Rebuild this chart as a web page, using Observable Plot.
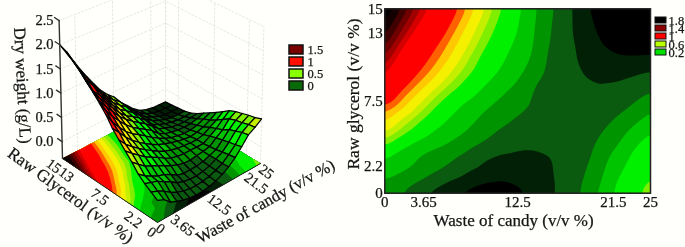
<!DOCTYPE html>
<html><head><meta charset="utf-8">
<script src="https://cdn.jsdelivr.net/npm/d3@7"></script>
<script src="https://cdn.jsdelivr.net/npm/@observablehq/plot@0.6"></script>
<style>
html,body{margin:0;padding:0;background:#fffffb;overflow:hidden}
#stage{position:relative;width:685px;height:247px;filter:blur(0.35px)}
#stage svg{position:absolute;background:transparent;font-family:"Liberation Serif",serif;overflow:hidden}
</style></head><body><div id="stage"></div>
<script>
const waste = [0,1.5625,3.125,4.6875,6.25,7.8125,9.375,10.9375,12.5,14.0625,15.625,17.1875,18.75,20.3125,21.875,23.4375,25];
const glycerol = [15,14,13,12,11,10,9,8,7,6,5,4,3,2,1,0];
const dryWeight = [
[2.0,1.8,1.55,1.31,1.09,.88,.68,.525,.40,.22,.075,-.07,-.18,-.24,-.27,-.28,-.29],
[1.92,1.69,1.43,1.22,1.01,.81,.63,.49,.38,.21,.06,-.075,-.165,-.23,-.26,-.27,-.275],
[1.84,1.58,1.32,1.14,.93,.74,.58,.46,.36,.2,.05,-.08,-.15,-.215,-.245,-.255,-.255],
[1.73,1.44,1.18,1.03,.85,.68,.53,.43,.32,.19,.03,-.07,-.135,-.195,-.23,-.235,-.235],
[1.6,1.32,1.12,.95,.78,.61,.48,.39,.29,.17,.01,-.07,-.125,-.165,-.19,-.195,-.19],
[1.47,1.21,1.03,.86,.69,.56,.45,.35,.25,.13,0,-.06,-.11,-.14,-.145,-.135,-.115],
[1.33,1.1,.91,.75,.6,.48,.38,.29,.195,.06,-.02,-.06,-.09,-.105,-.10,-.07,-.02],
[1.18,.95,.78,.62,.5,.41,.31,.21,.12,.04,-.02,-.05,-.08,-.08,-.05,.01,.07],
[.98,.83,.66,.52,.41,.31,.22,.14,.085,.035,-.01,-.04,-.06,-.04,0,.07,.16],
[.83,.67,.55,.44,.34,.25,.16,.09,.035,0,-.02,-.035,-.04,-.01,.07,.15,.26],
[.69,.57,.46,.35,.27,.19,.1,.03,-.01,-.03,-.03,-.04,-.04,.04,.13,.25,.36],
[.55,.43,.32,.25,.18,.1,.03,-.03,-.07,-.08,-.06,-.05,-.02,.09,.185,.34,.42],
[.39,.28,.2,.13,.08,.01,-.085,-.12,-.125,-.12,-.1,-.05,0,.125,.27,.39,.46],
[.28,.23,.18,.09,.02,-.08,-.13,-.155,-.165,-.15,-.11,-.04,.03,.16,.32,.42,.50],
[.195,.14,.06,-.04,-.115,-.165,-.195,-.205,-.19,-.165,-.115,-.05,.06,.19,.37,.46,.53],
[.11,.05,-.08,-.14,-.19,-.22,-.24,-.235,-.215,-.18,-.12,-.035,.08,.23,.40,.48,.58]
];
const bandLevels = [-1,-.2,-.1,.05,.2,.36,.52,.6,.68,.8,.9,1,1.4,1.5,1.6,1.7,1.8,1.9];
const bandColors = ["#000000","#012006","#0a5a10","#009400","#00c400","#00f000","#80ee00","#c4f000","#f4f000","#ffc800","#ff6000","#ff0000","#d40000","#a00000","#700000","#400000","#150000","#000000"];
const wasteTicks = [0,3.65,12.5,21.5,25];
const glycerolTicks = [0,2.2,7.5,13,15];
const weightTicks = [0,.5,1,1.5,2,2.5];
const legend3d = ["1.5","1","0.5","0"];
const legend3dColors = ["#7a0000","#ff1000","#88ff00","#0a6a0a"];
const legend2d = ["1.8","1.4","1","0.6","0.2"];
const legend2dColors = ["#000000","#8b0000","#ff0000","#b8ff00","#00e000"];

const stage = document.getElementById("stage");
const serif = "Liberation Serif";
const ink = "#141414";
const color = {type:"threshold",domain:bandLevels.slice(1),range:bandColors};
function place(svg,left,top){svg.style.left=left+"px";svg.style.top=top+"px";stage.appendChild(svg);}

const floorZ = -.35;
const corners = {a:[157,222,48],b:[260,163,48],c:[62,158,48.4],d:[165,104,44]};
const box = d3.geoTransform({point(w,g,z){
  const u=w/25,v=g/15,mix=i=>(1-u)*(1-v)*corners.a[i]+u*(1-v)*corners.b[i]+(1-u)*v*corners.c[i]+u*v*corners.d[i];
  const h=((z===undefined?floorZ:z)-floorZ)*mix(2),fx=mix(0);
  this.stream.point(fx+(fx-160)*.00025*h,mix(1)-h);
}});

const n=waste.length,m=glycerol.length;
const wOf=d3.scaleLinear([0,n-1],[waste[0],waste[n-1]]).clamp(true);
const gOf=d3.scaleLinear([0,m-1],[glycerol[0],glycerol[m-1]]).clamp(true);
const floor=d3.contours().size([n,m]).smooth(true).thresholds(bandLevels)(dryWeight.flat()).map(c=>({
  type:"MultiPolygon",value:c.value,
  coordinates:c.coordinates.map(p=>p.map(r=>r.map(([i,j])=>[wOf(i-.5),gOf(j-.5)])))
}));
const quads=[];
for(let j=0;j<m-1;j++)for(let i=0;i<n-1;i++){
  const z=[dryWeight[j][i],dryWeight[j][i+1],dryWeight[j+1][i+1],dryWeight[j+1][i]];
  quads.push({type:"Polygon",value:d3.mean(z),order:waste[i]/25+glycerol[j]/15,coordinates:[[
    [waste[i],glycerol[j],z[0]],[waste[i+1],glycerol[j],z[1]],[waste[i+1],glycerol[j+1],z[2]],[waste[i],glycerol[j+1],z[3]],[waste[i],glycerol[j],z[0]]
  ]]});
}
quads.sort((a,b)=>d3.descending(a.order,b.order));
const lines=c=>({type:"LineString",coordinates:c});
const topZ=2.5;
const walls=[
  ...weightTicks.map(z=>lines([[0,15,z],[25,15,z],[25,0,z]])),
  ...wasteTicks.map(w=>lines([[w,15,floorZ],[w,15,topZ]])),
  ...glycerolTicks.map(g=>lines([[25,g,floorZ],[25,g,topZ]])),
  lines([[25,15,floorZ],[25,15,topZ]])
];
const edges=[lines([[0,15,floorZ],[0,0,floorZ],[25,0,floorZ]])];
const zAxis=[lines([[0,15,floorZ],[0,15,topZ]]),...weightTicks.map(z=>lines([[0,15,z],[0,15.7,z]]))];
const tickStyle={fontFamily:serif,fontSize:14.5,fill:ink,rotate:37,stroke:ink,strokeWidth:.25};
const title={fontFamily:serif,fill:ink,textAnchor:"middle",lineAnchor:"middle",stroke:ink,strokeWidth:.25};
const axisText={fontFamily:serif,fill:ink,textStroke:ink,textStrokeWidth:.25};

place(Plot.plot({
  width:340,height:247,margin:0,projection:box,color,
  style:{background:"transparent"},
  marks:[
    Plot.geo(walls,{stroke:"#e6e6e6",strokeWidth:1,strokeDasharray:"2,2"}),
    Plot.geo(floor,{fill:d=>d.value}),
    Plot.geo(edges,{stroke:"#222",strokeWidth:1}),
    Plot.geo(quads,{fill:d=>d.value+.12,stroke:"#000",strokeWidth:1.2}),
    Plot.geo(zAxis,{stroke:"#333",strokeWidth:1.4}),
    Plot.text(wasteTicks,{x:d=>d,y:()=>0,text:String,textAnchor:"start",dx:0,dy:4,...tickStyle}),
    Plot.text(glycerolTicks,{x:()=>0,y:d=>d,text:String,textAnchor:"end",dx:-3,dy:12,...tickStyle})
  ]
}),0,0);

place(Plot.plot({
  width:340,height:247,marginTop:20,marginBottom:89,marginLeft:56,marginRight:284,
  y:{domain:[floorZ,topZ]},
  style:{background:"transparent"},
  marks:[
    Plot.axisY(weightTicks,{anchor:"left",tickSize:0,tickPadding:3,tickFormat:d3.format(".1f"),label:null,fontSize:14.5,...axisText}),
    Plot.text(["Dry weight (g/L)"],{frameAnchor:"top-left",dx:-34,dy:65,rotate:87,fontSize:17,...title}),
    Plot.text(["Raw Glycerol (v/v %)"],{frameAnchor:"top-left",dx:14,dy:175,rotate:36,fontSize:17,...title}),
    Plot.text(["Waste of candy (v/v %)"],{frameAnchor:"top-left",dx:209,dy:181,rotate:-29,fontSize:16.5,...title})
  ]
}),0,0);

place(Plot.plot({
  width:46,height:54,margin:0,marginLeft:4,marginRight:28,
  y:{domain:legend3d,padding:.25},
  marks:[
    Plot.cell(legend3d,{y:d=>d,fill:(d,i)=>legend3dColors[i],stroke:"#111",strokeWidth:1.5}),
    Plot.axisY(legend3d,{anchor:"right",tickSize:0,tickPadding:4,label:null,fontSize:12.5,...axisText})
  ]
}),285,40);

place(Plot.plot({
  width:345,height:247,marginLeft:44.3,marginRight:35,marginTop:8.3,marginBottom:54.3,
  x:{domain:[0,25]},y:{domain:[0,15]},color,
  style:{background:"transparent"},
  marks:[
    Plot.contour(dryWeight.flatMap((row,j)=>row.map((z,i)=>({w:waste[i],g:glycerol[j],z}))),
      {x:"w",y:"g",fill:"z",thresholds:bandLevels,interpolate:"barycentric",pixelSize:1,blur:4}),
    Plot.frame({stroke:"#222",strokeWidth:1.5}),
    Plot.axisX(wasteTicks,{anchor:"bottom",tickSize:0,tickPadding:3,tickFormat:String,label:null,fontSize:15,...axisText}),
    Plot.axisY(glycerolTicks,{anchor:"left",tickSize:0,tickPadding:2,tickFormat:String,label:null,fontSize:15,...axisText}),
    Plot.text(["Waste of candy (v/v %)"],{frameAnchor:"bottom",dx:-4,dy:27,fontSize:17,...title}),
    Plot.text(["Raw glycerol (v/v %)"],{frameAnchor:"left",dx:-31,dy:-7,rotate:-90,fontSize:17.5,...title})
  ]
}),340,0);

place(Plot.plot({
  width:31,height:43,margin:0,marginLeft:1,marginRight:19,
  y:{domain:legend2d,padding:.2},
  marks:[
    Plot.cell(legend2d,{y:d=>d,fill:(d,i)=>legend2dColors[i],stroke:"#111",strokeWidth:1}),
    Plot.axisY(legend2d,{anchor:"right",tickSize:0,tickPadding:2,label:null,fontSize:12.5,...axisText})
  ]
}),654,15);
</script></body></html>
